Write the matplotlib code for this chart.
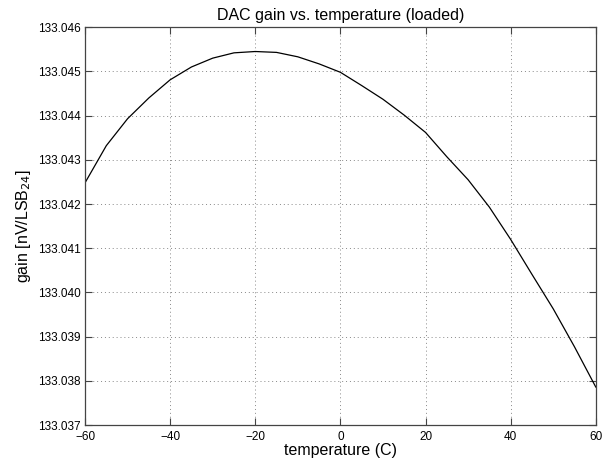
import matplotlib
matplotlib.use("Agg")
import matplotlib.pyplot as plt

TEMPERATURE = [-60, -55, -50, -45, -40, -35, -30, -25, -20, -15, -10, -5,
               0, 5, 10, 15, 20, 25, 30, 35, 40, 45, 50, 55, 60]
GAIN = [133.04248, 133.04332, 133.04393, 133.04440, 133.04481, 133.04510,
        133.04530, 133.04542, 133.04545, 133.04543, 133.04533, 133.04517,
        133.04498, 133.04468, 133.04437, 133.04401, 133.04362, 133.04307,
        133.04255, 133.04193, 133.04120, 133.04041, 133.03963, 133.03877,
        133.03786]
X_TICKS = [-60, -40, -20, 0, 20, 40, 60]
Y_TICKS = [133.037, 133.038, 133.039, 133.040, 133.041, 133.042,
           133.043, 133.044, 133.045, 133.046]


def main():
    plt.rcParams["font.family"] = ["Liberation Sans", "DejaVu Sans"]

    fig = plt.figure(figsize=(6.03, 4.61), dpi=100)
    ax = fig.add_axes([0.141, 0.078, 0.847, 0.863])

    ax.plot(TEMPERATURE, GAIN, color="black", linewidth=0.9)

    ax.set_xlim(-60, 60)
    ax.set_ylim(133.037, 133.046)
    ax.set_xticks(X_TICKS)
    ax.set_xticklabels([f"{t}".replace("-", "\u2212") for t in X_TICKS])
    ax.set_yticks(Y_TICKS)
    ax.set_yticklabels([f"{v:.3f}" for v in Y_TICKS])

    ax.grid(True, linestyle=(0, (1, 3)), color="#888888", linewidth=0.7)
    ax.tick_params(direction="in", top=True, right=True, length=5,
                   width=0.8, color="#444444", labelsize=8.5)
    ax.tick_params(axis="x", pad=4)
    ax.tick_params(axis="y", pad=3)
    for spine in ax.spines.values():
        spine.set_color("#444444")
        spine.set_linewidth(0.9)

    ax.set_title("DAC gain vs. temperature (loaded)", fontsize=11.5, pad=5)
    ax.set_xlabel("temperature (C)", fontsize=11.5, labelpad=0)
    ax.set_ylabel("gain [nV/LSB$_{24}$]", fontsize=11.5, labelpad=4)

    fig.savefig("out.png", dpi=100)
    plt.close(fig)


if __name__ == "__main__":
    main()
